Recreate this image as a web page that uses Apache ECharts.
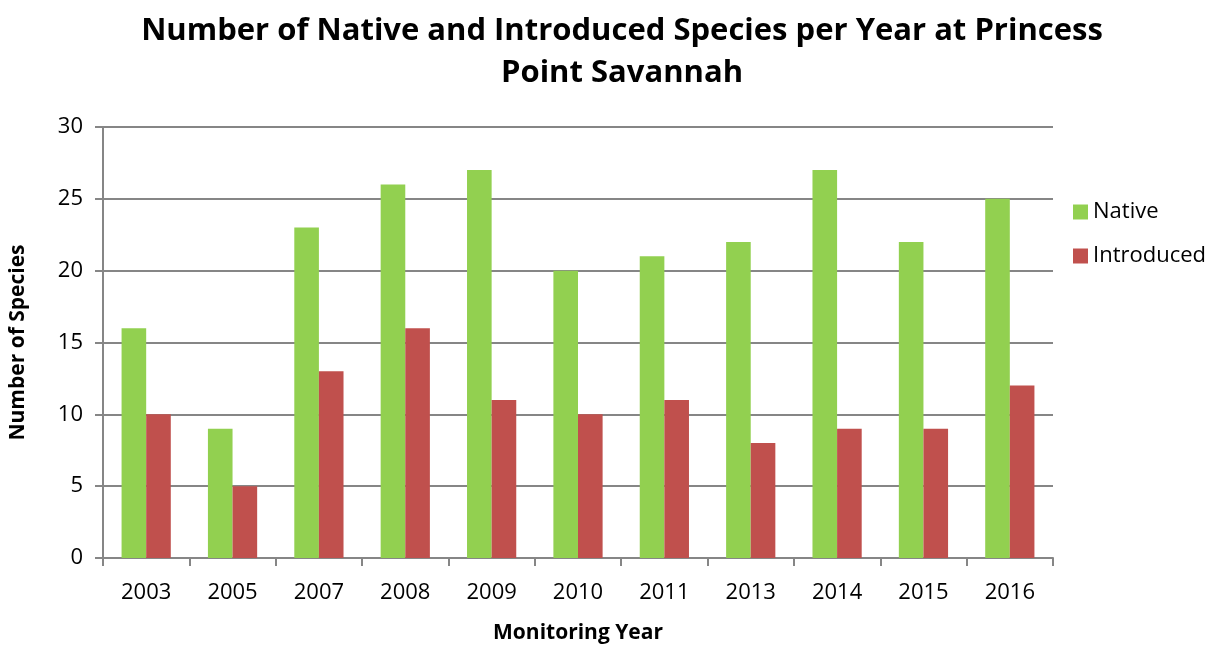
<!DOCTYPE html>
<html>
<head>
<meta charset="utf-8">
<script src="https://cdn.jsdelivr.net/npm/echarts@6/dist/echarts.min.js"></script>
<style>
  html, body { margin: 0; padding: 0; background: #fff; }
  #main { width: 1217px; height: 645px; }
</style>
</head>
<body>
<div id="main"></div>
<script>
// data
var years = ['2003', '2005', '2007', '2008', '2009', '2010', '2011', '2013', '2014', '2015', '2016'];
var native = [16, 9, 23, 26, 27, 20, 21, 22, 27, 22, 25];
var introduced = [10, 5, 13, 16, 11, 10, 11, 8, 9, 9, 12];

var font = '"Open Sans", "Liberation Sans", sans-serif';
var gridColor = '#868686';

var myChart = echarts.init(document.getElementById('main'), null, { renderer: 'canvas' });

var option = {
  animation: false,
  textStyle: { fontFamily: font },
  title: {
    text: 'Number of Native and Introduced Species per Year at Princess\nPoint Savannah',
    left: 617,
    textAlign: 'center',
    top: 5,
    textStyle: { fontSize: 31, fontWeight: 'bold', color: '#000', lineHeight: 42, fontFamily: font }
  },
  legend: {
    orient: 'vertical',
    left: 1068,
    top: 196,
    itemWidth: 15,
    itemHeight: 15,
    itemGap: 22,
    icon: 'rect',
    textStyle: { fontSize: 22, color: '#000', fontFamily: font },
    data: ['Native', 'Introduced']
  },
  grid: { left: 103, right: 164, top: 127, bottom: 87, containLabel: false, outerBoundsMode: 'none' },
  xAxis: {
    type: 'category',
    data: years,
    name: 'Monitoring Year',
    nameLocation: 'middle',
    nameGap: 65,
    nameTextStyle: { fontSize: 21, fontWeight: 'bold', color: '#000' },
    axisLine: { lineStyle: { color: gridColor, width: 2 } },
    axisTick: { show: true, length: 8, lineStyle: { color: gridColor, width: 2 } },
    axisLabel: { fontSize: 22, color: '#000', margin: 24 }
  },
  yAxis: {
    type: 'value',
    min: 0,
    max: 30,
    interval: 5,
    name: 'Number of Species',
    nameLocation: 'middle',
    nameGap: 74,
    nameRotate: 90,
    nameTextStyle: { fontSize: 21, fontWeight: 'bold', color: '#000' },
    axisLine: { show: true, lineStyle: { color: gridColor, width: 2 } },
    axisTick: { show: true, length: 8, lineStyle: { color: gridColor, width: 2 } },
    axisLabel: { fontSize: 22, color: '#000', margin: 20 },
    splitLine: { lineStyle: { color: gridColor, width: 2 } }
  },
  series: [
    {
      name: 'Native',
      type: 'bar',
      data: native,
      barGap: '0%',
      barCategoryGap: '43%',
      itemStyle: { color: '#92D050' }
    },
    {
      name: 'Introduced',
      type: 'bar',
      data: introduced,
      barGap: '0%',
      barCategoryGap: '43%',
      itemStyle: { color: '#C0504D' }
    }
  ]
};

myChart.setOption(option);
</script>
</body>
</html>
